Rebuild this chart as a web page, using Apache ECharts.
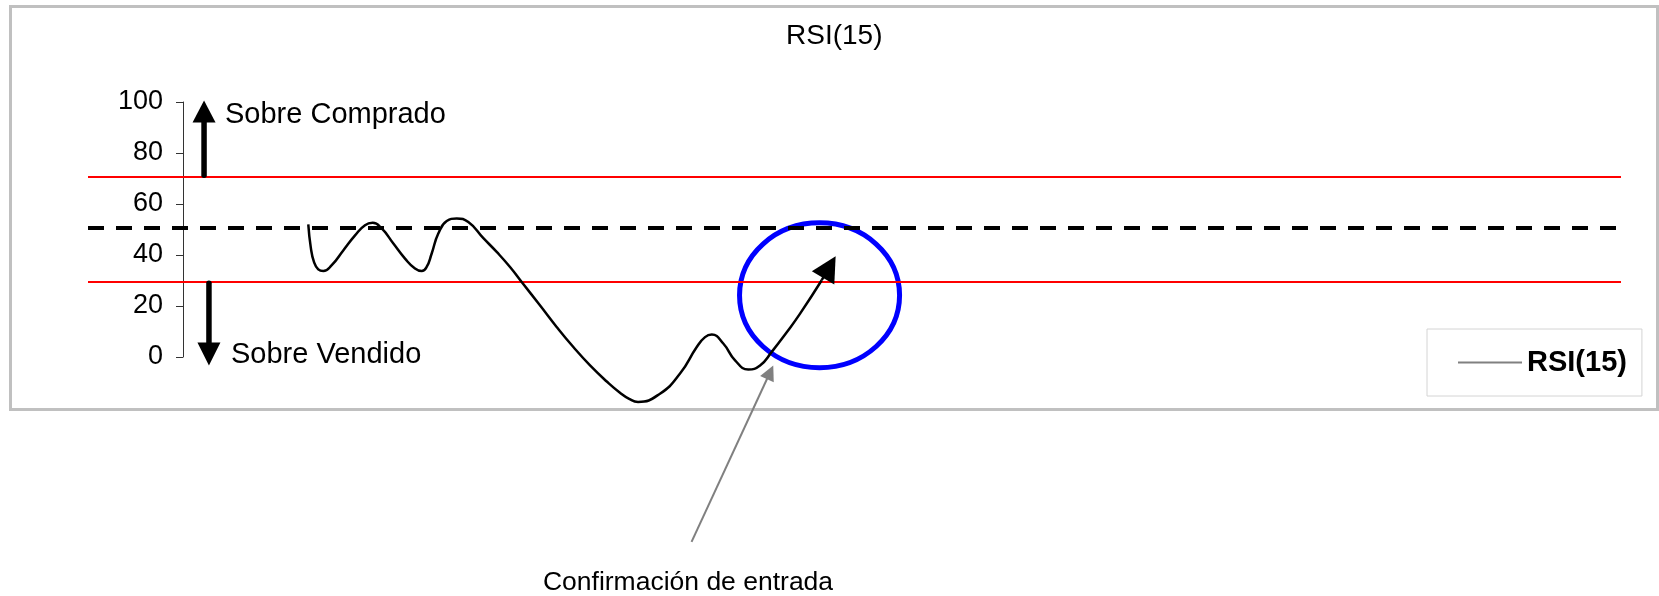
<!DOCTYPE html>
<html>
<head>
<meta charset="utf-8">
<title>RSI(15)</title>
<script src="https://cdn.jsdelivr.net/npm/echarts@6.0.0/dist/echarts.min.js"></script>
<style>
html, body { margin: 0; padding: 0; background: #fff; }
#plot { width: 1659px; height: 596px; }
</style>
</head>
<body>
<div id="plot"></div>
<script>
// RSI curve (x = time, 0..100 across the plot)
var rsiX = [14.37, 14.53, 14.74, 15.02, 15.35, 15.90, 16.65, 17.42, 18.07, 18.57,
            19.16, 19.92, 20.68, 21.33, 21.77, 22.09, 22.42, 22.85, 23.40, 24.05,
            24.81, 25.79, 26.66, 27.53, 28.29, 29.48, 30.57, 31.66, 32.75, 33.84,
            34.70, 35.30, 35.88, 37.31, 38.62, 39.71, 40.25, 40.69, 41.44, 42.21,
            43.07, 43.84, 44.60, 45.58, 46.45, 47.86];
var rsiY = [52.0, 43.1, 37.3, 34.4, 33.7, 36.0, 41.8, 47.7, 51.7, 52.6,
            50.4, 44.5, 38.6, 34.7, 33.7, 35.3, 40.6, 48.4, 53.3, 54.3,
            52.9, 46.6, 41.2, 35.3, 29.4, 20.3, 11.8, 3.9, -3.3, -9.6,
            -14.0, -16.4, -17.6, -14.4, -6.5, 3.9, 7.8, 8.8, 5.3, -1.3,
            -4.9, -3.3, 2.0, 9.7, 17.0, 30.1];

// level lines
var overBought = 70.6;
var overSold = 29.4;
var midLevel = 50.8;

// y axis
var yMin = 0, yMax = 100, yStep = 20;

// annotation arrows: [fromX, fromY, tipX, tipY]
var upArrow = [7.57, 71.3, 7.57, 100.6];
var downArrow = [7.89, 28.9, 7.89, -3.3];
var endArrow = [47.86, 30.1, 48.77, 39.5];
var noteArrow = [39.37, -72.5, 44.70, -3.3];
// circle around the entry: centre x, centre y, radius x, radius y
var entryCircle = [47.72, 24.2, 5.22, 28.4];

var FONT = "'Liberation Sans', Arial, sans-serif";

var chart = echarts.init(document.getElementById('plot'));

chart.setOption({
    animation: false,
    backgroundColor: '#fff',
    title: {
        text: 'RSI(15)',
        left: 781,
        top: 17,
        textStyle: { fontSize: 28, fontWeight: 'normal', color: '#000', fontFamily: FONT }
    },
    legend: {
        data: [{ name: 'RSI(15)' }],
        left: 1427,
        top: 329,
        padding: [19, 15, 19, 31],
        icon: 'rect',
        itemWidth: 64,
        itemHeight: 2,
        borderColor: '#d4d4d4',
        borderWidth: 1,
        itemStyle: { color: '#808080' },
        textStyle: { fontSize: 29, fontWeight: 'bold', color: '#000', fontFamily: FONT }
    },
    grid: {
        left: 88,
        right: 38,
        top: 102,
        bottom: 239
    },
    xAxis: {
        type: 'value',
        min: 0,
        max: 100,
        show: false
    },
    yAxis: {
        type: 'value',
        min: yMin,
        max: yMax,
        interval: yStep,
        offset: -95,
        axisLine: { show: true, lineStyle: { color: '#333', width: 1 } },
        axisTick: { show: true, length: 7, lineStyle: { color: '#333' } },
        axisLabel: { fontSize: 27, color: '#000', margin: 20, fontFamily: FONT },
        splitLine: { show: false }
    },
    series: [
        {
            name: 'RSI(15)',
            type: 'line',
            data: rsiX.map(function (x, i) { return [x, rsiY[i]]; }),
            smooth: 0.5,
            symbol: 'none',
            clip: false,
            silent: true,
            z: 5,
            lineStyle: { color: '#000', width: 2.5 },
            itemStyle: { color: '#000' }
        },
        {
            name: 'levels',
            type: 'line',
            data: [],
            markLine: {
                silent: true,
                symbol: ['none', 'none'],
                label: { show: false },
                data: [
                    { yAxis: overBought, lineStyle: { color: '#ff0000', width: 2, type: 'solid' } },
                    { yAxis: overSold, lineStyle: { color: '#ff0000', width: 2, type: 'solid' } },
                    { yAxis: midLevel, lineStyle: { color: '#000', width: 4, type: [16, 12] } }
                ]
            }
        }
    ]
});

// arrows, circle and notes, placed from data units
function px(x, y) {
    return chart.convertToPixel({ gridIndex: 0 }, [x, y]);
}

function arrow(a, color, width, headLen, headW, round) {
    var p0 = px(a[0], a[1]);
    var p1 = px(a[2], a[3]);
    var dx = p1[0] - p0[0], dy = p1[1] - p0[1];
    var len = Math.sqrt(dx * dx + dy * dy);
    var ux = dx / len, uy = dy / len;
    var bx = p1[0] - ux * headLen, by = p1[1] - uy * headLen;
    return [
        {
            type: 'line', z: 10, silent: true,
            shape: { x1: p0[0], y1: p0[1], x2: bx + ux * 2, y2: by + uy * 2 },
            style: { stroke: color, lineWidth: width, lineCap: round ? 'round' : 'butt' }
        },
        {
            type: 'polygon', z: 10, silent: true,
            shape: { points: [
                [p1[0], p1[1]],
                [bx - uy * headW / 2, by + ux * headW / 2],
                [bx + uy * headW / 2, by - ux * headW / 2]
            ] },
            style: { fill: color }
        }
    ];
}

var c = px(entryCircle[0], entryCircle[1]);
var cEdge = px(entryCircle[0] + entryCircle[2], entryCircle[1] + entryCircle[3]);

var items = [
    {
        type: 'rect', z: 0, silent: true,
        shape: { x: 10.5, y: 6.5, width: 1647, height: 403 },
        style: { fill: null, stroke: '#c0c0c0', lineWidth: 3 }
    },
    {
        type: 'ellipse', z: 1, silent: true,
        shape: { cx: c[0], cy: c[1], rx: cEdge[0] - c[0], ry: c[1] - cEdge[1] },
        style: { fill: null, stroke: '#0000ff', lineWidth: 5 }
    },
    {
        type: 'text', z: 10, silent: true, x: 225, y: 115,
        style: { text: 'Sobre Comprado', fill: '#000', fontSize: 29, fontFamily: FONT, verticalAlign: 'middle' }
    },
    {
        type: 'text', z: 10, silent: true, x: 231, y: 355,
        style: { text: 'Sobre Vendido', fill: '#000', fontSize: 29, fontFamily: FONT, verticalAlign: 'middle' }
    },
    {
        type: 'text', z: 10, silent: true, x: 688, y: 583,
        style: { text: 'Confirmación de entrada', fill: '#000', fontSize: 26.5, fontFamily: FONT, align: 'center', verticalAlign: 'middle' }
    }
];
items = items.concat(arrow(upArrow, '#000', 5.5, 22, 23, true));
items = items.concat(arrow(downArrow, '#000', 5.5, 23, 23, true));
items = items.concat(arrow(endArrow, '#000', 2.5, 25, 26, false));
items = items.concat(arrow(noteArrow, '#808080', 2, 15, 15, false));

chart.setOption({ graphic: items });
</script>
</body>
</html>
